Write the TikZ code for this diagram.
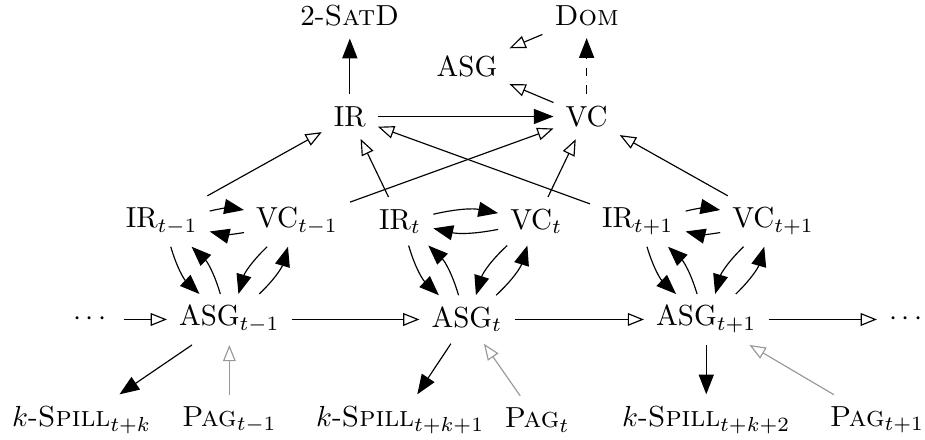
\documentclass[tikz,border=0pt]{standalone}
\usepackage{amsmath,amssymb}
\usepackage{tikz}
\usetikzlibrary{positioning,arrows.meta}

\begin{document}
\begin{tikzpicture}[
            every node/.style={inner sep=4pt},
            on grid,
            hard/.style={-{Triangle[length=6.8pt,width=5.2pt]}},
            soft/.style={-{Triangle[open,length=5.6pt,width=4.4pt]}},
            pag/.style={soft, black!40},
        ]
            \useasboundingbox (-5.66,-1.46) rectangle (5.551,3.872);

            \node                                      (asgt)   {$\mathrm{ASG}_t$};
            \node[left=2.88cm of asgt]                 (asgp)   {$\mathrm{ASG}_{t-1}$};
            \node[right=2.90cm of asgt]                (asgn)   {$\mathrm{ASG}_{t+1}$};
            \node[left=1.66cm of asgp]                 (dotsl)  {$\cdots$};
            \node[right=2.45cm of asgn]                (dotsr)  {$\cdots$};

            \node[above left=1.19cm and .82cm of asgp]  (irp) {$\mathrm{IR}_{t-1}$};
            \node[above right=1.19cm and .82cm of asgp] (vcp) {$\mathrm{VC}_{t-1}$};
            \node[above left=1.19cm and .81cm of asgt]  (irt) {$\mathrm{IR}_{t}$};
            \node[above right=1.19cm and .84cm of asgt] (vct) {$\mathrm{VC}_{t}$};
            \node[above left=1.19cm and .83cm of asgn]  (irn) {$\mathrm{IR}_{t+1}$};
            \node[above right=1.19cm and .81cm of asgn] (vcn) {$\mathrm{VC}_{t+1}$};

            \node[above left=2.46cm and 1.42cm of asgt]  (ir)     {IR};
            \node[above right=2.46cm and 1.45cm of asgt] (vc)     {VC};
            \node[above=3.07cm of asgt]                  (asgtop) {ASG};
            \node[above=1.22cm of ir]                    (sat)    {2-\textsc{SatD}};
            \node[above=1.22cm of vc]                    (dom)    {\textsc{Dom}};

            \node[below left=1.22cm and 1.79cm of asgp]  (spillp) {$k$-\textsc{Spill}$_{t+k}$};
            \node[below=1.22cm of asgp]                  (pagp)   {\textsc{Pag}$_{t-1}$};
            \node[below left=1.22cm and .81cm of asgt]   (spillt) {$k$-\textsc{Spill}$_{t+k+1}$};
            \node[below right=1.22cm and .85cm of asgt]  (pagt)   {\textsc{Pag}$_{t}$};
            \node[below=1.22cm of asgn]                  (spilln) {$k$-\textsc{Spill}$_{t+k+2}$};
            \node[below right=1.22cm and 2.07cm of asgn] (pagn)   {\textsc{Pag}$_{t+1}$};

            % top
            \draw[hard] (ir) -- (sat);
            \draw[hard, dashed] (vc) -- (dom);
            \draw[soft] (dom) -- (asgtop);
            \draw[soft] (vc) -- (asgtop);
            \draw[hard] (ir) -- (vc);

            \draw[soft] (irp) -- (ir);
            \draw[soft] (vcp) -- (vc);
            \draw[soft] (irt) -- (ir);
            \draw[soft] (vct) -- (vc);
            \draw[soft] (irn) -- (ir);
            \draw[soft] (vcn) -- (vc);

            % t-1
            \draw[hard] (irp) to[bend left=12] (vcp);
            \draw[hard] (vcp) to[bend left=12] (irp);
            \draw[hard] (irp) to[bend right=15] (asgp);
            \draw[hard] (asgp) to[bend right=15] (irp);
            \draw[hard] (vcp) to[bend right=15] (asgp);
            \draw[hard] (asgp) to[bend right=15] (vcp);

            % t
            \draw[hard] (irt) to[bend left=12] (vct);
            \draw[hard] (vct) to[bend left=12] (irt);
            \draw[hard] (irt) to[bend right=15] (asgt);
            \draw[hard] (asgt) to[bend right=15] (irt);
            \draw[hard] (vct) to[bend right=15] (asgt);
            \draw[hard] (asgt) to[bend right=15] (vct);

            % t+1
            \draw[hard] (irn) to[bend left=12] (vcn);
            \draw[hard] (vcn) to[bend left=12] (irn);
            \draw[hard] (irn) to[bend right=15] (asgn);
            \draw[hard] (asgn) to[bend right=15] (irn);
            \draw[hard] (vcn) to[bend right=15] (asgn);
            \draw[hard] (asgn) to[bend right=15] (vcn);

            % chain
            \draw[soft] (dotsl) -- (asgp);
            \draw[soft] (asgp) -- (asgt);
            \draw[soft] (asgt) -- (asgn);
            \draw[soft] (asgn) -- (dotsr);

            % bottom
            \draw[hard] (asgp) -- (spillp);
            \draw[hard] (asgt) -- (spillt);
            \draw[hard] (asgn) -- (spilln);
            \draw[pag] (pagp) -- (asgp);
            \draw[pag] (pagt) -- (asgt);
            \draw[pag] (pagn) -- (asgn);
        \end{tikzpicture}
\end{document}
